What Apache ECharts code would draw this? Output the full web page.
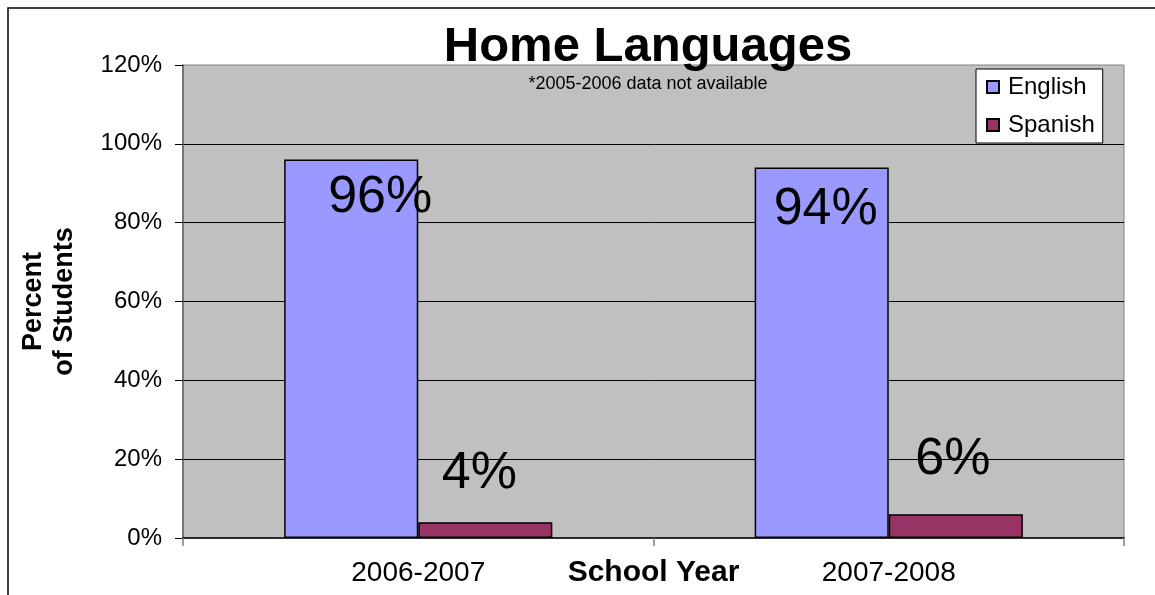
<!DOCTYPE html>
<html>
<head>
<meta charset="utf-8">
<title>Home Languages</title>
<script src="https://cdn.jsdelivr.net/npm/echarts@6/dist/echarts.min.js"></script>
<style>
  html, body { margin: 0; padding: 0; background: #ffffff; }
  #chart { width: 1155px; height: 595px; }
</style>
</head>
<body>
<div id="chart"></div>
<script>
// School years on the category axis
const schoolYears = ['2006-2007', '2007-2008'];
// Share of students by home language (percent)
const englishValues = [96, 94];
const spanishValues = [4, 6];
// Value axis ticks
const yMin = 0;
const yMax = 120;
const yStep = 20;

const FONT = '"Liberation Sans", Arial, Helvetica, sans-serif';

// Per-bar nudges for the large value labels
const englishLabelOffsets = [[29, 7], [4, 11]];
const spanishLabelOffsets = [[-6, -18], [-3, -24]];

function withLabels(values, offsets) {
  return values.map((v, i) => ({
    value: v,
    label: { offset: offsets[i] }
  }));
}

const chart = echarts.init(document.getElementById('chart'), null, { renderer: 'canvas' });

chart.setOption({
  backgroundColor: '#ffffff',
  animation: false,
  textStyle: { fontFamily: FONT },
  graphic: [
    {
      type: 'rect',
      shape: { x: 8, y: 8, width: 1200, height: 700 },
      style: { fill: 'none', stroke: '#000000', lineWidth: 1.5 },
      silent: true
    }
  ],
  title: [
    {
      text: 'Home Languages',
      left: 648,
      top: 23,
      textAlign: 'center',
      padding: 0,
      textStyle: { fontFamily: FONT, fontSize: 49, fontWeight: 'bold', color: '#000000' }
    },
    {
      text: '*2005-2006 data not available',
      left: 648,
      top: 75,
      textAlign: 'center',
      padding: 0,
      textStyle: { fontFamily: FONT, fontSize: 18, fontWeight: 'normal', color: '#000000' }
    }
  ],
  legend: {
    orient: 'vertical',
    left: 976,
    top: 69,
    width: 132,
    padding: [6, 8, 6, 10],
    itemGap: 14,
    itemWidth: 12,
    itemHeight: 12,
    backgroundColor: '#ffffff',
    borderColor: '#000000',
    borderWidth: 1,
    icon: 'rect',
    textStyle: { fontFamily: FONT, fontSize: 24, color: '#000000', padding: [0, 0, 0, 4] },
    data: ['English', 'Spanish']
  },
  grid: {
    left: 183,
    right: 31,
    top: 65,
    bottom: 57,
    show: true,
    backgroundColor: '#c0c0c0',
    borderColor: '#808080',
    borderWidth: 1,
    containLabel: false,
    outerBoundsMode: 'none'
  },
  xAxis: {
    type: 'category',
    data: schoolYears,
    name: 'School Year',
    nameLocation: 'middle',
    nameGap: 20,
    nameMoveOverlap: false,
    nameTextStyle: { fontFamily: FONT, fontSize: 30, fontWeight: 'bold', color: '#000000' },
    axisLine: { show: true, lineStyle: { color: '#000000', width: 1.5 } },
    axisTick: { show: true, alignWithLabel: false, length: 8, lineStyle: { color: '#808080', width: 1.5 } },
    axisLabel: { fontFamily: FONT, fontSize: 28, color: '#000000', margin: 21 },
    splitLine: { show: false }
  },
  yAxis: {
    type: 'value',
    min: yMin,
    max: yMax,
    interval: yStep,
    name: 'Percent\nof Students',
    nameLocation: 'middle',
    nameRotate: 90,
    nameGap: 103,
    nameMoveOverlap: false,
    nameTextStyle: {
      fontFamily: FONT, fontSize: 27, fontWeight: 'bold', color: '#000000',
      lineHeight: 31, align: 'center'
    },
    axisLine: { show: true, lineStyle: { color: '#606060', width: 1.5 } },
    axisTick: { show: true, inside: false, length: 8, lineStyle: { color: '#000000', width: 1 } },
    axisLabel: {
      fontFamily: FONT, fontSize: 24, color: '#000000', margin: 21,
      formatter: '{value}%'
    },
    splitLine: { show: true, showMinLine: false, showMaxLine: false, lineStyle: { color: '#000000', width: 1 } }
  },
  series: [
    {
      name: 'English',
      type: 'bar',
      barGap: '0%',
      barCategoryGap: '43%',
      data: withLabels(englishValues, englishLabelOffsets),
      itemStyle: { color: '#9999ff', borderColor: '#000000', borderWidth: 1.5 },
      label: {
        show: true,
        position: 'insideTop',
        formatter: '{c}%',
        fontFamily: FONT,
        fontSize: 52,
        color: '#000000'
      }
    },
    {
      name: 'Spanish',
      type: 'bar',
      barGap: '0%',
      barCategoryGap: '43%',
      data: withLabels(spanishValues, spanishLabelOffsets),
      itemStyle: { color: '#993366', borderColor: '#000000', borderWidth: 1.5 },
      label: {
        show: true,
        position: 'top',
        formatter: '{c}%',
        fontFamily: FONT,
        fontSize: 52,
        color: '#000000'
      }
    }
  ]
});
</script>
</body>
</html>
